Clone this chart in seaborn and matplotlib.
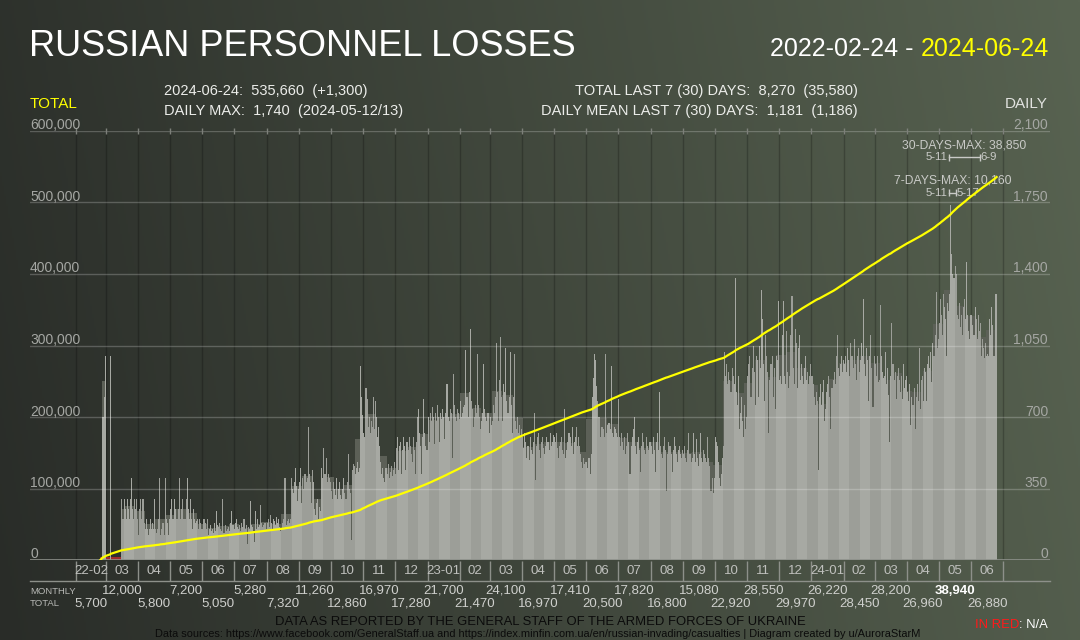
"""Russian personnel losses: daily losses and running total, 2022-02-24 .. 2024-06-24"""
import numpy as np
import pandas as pd
import seaborn as sns
from matplotlib import pyplot as plt
from matplotlib.transforms import blended_transform_factory, offset_copy

FIRST_DAY = "2022-02-24"
AXIS_START = "2022-02-01"

# daily increase of the reported total, one list per month
feb_22 = [1600, 1600, 700, 800, 1000]
mar_22 = [500, 500, 500, 500, 1000, 480, 480, 480, 480, 480, 480, 480, 480, 480, 480,
          300, 200, 300, 250, 200, 300, 250, 200, 300, 400, 250, 200, 300, 250, 300, 200]
apr_22 = [120, 250, 300, 200, 300, 180, 150, 200, 150, 120, 150, 200, 150, 180, 150,
          300, 150, 130, 150, 200, 400, 120, 150, 180, 120, 400, 200, 180, 120, 200]
may_22 = [250, 300, 200, 200, 300, 250, 200, 200, 250, 400, 200, 250, 300, 200, 200, 300,
          400, 250, 200, 300, 200, 150, 250, 200, 180, 190, 200, 150, 200, 180, 150]
jun_22 = [150, 200, 180, 150, 200, 120, 150, 170, 140, 150, 130, 180, 140, 240, 170,
          160, 180, 150, 140, 300, 130, 170, 140, 150, 160, 140, 180, 240, 170, 170]
jul_22 = [150, 180, 200, 160, 150, 170, 140, 180, 160, 200, 150, 170, 80, 160, 150, 290,
          170, 160, 140, 90, 240, 150, 200, 160, 170, 270, 180, 160, 170, 180, 150]
aug_22 = [180, 200, 160, 220, 180, 150, 200, 190, 170, 210, 180, 200, 160, 140, 150, 180,
          200, 400, 170, 190, 200, 180, 200, 400, 350, 330, 380, 450, 360, 290, 350]
sep_22 = [380, 450, 280, 400, 350, 420, 380, 400, 650, 420, 380, 280, 440, 380, 250,
          220, 280, 300, 200, 260, 240, 450, 400, 550, 420, 500, 380, 420, 400, 380]
oct_22 = [340, 300, 380, 350, 320, 400, 300, 350, 380, 320, 300, 350, 400, 330, 300, 380,
          520, 350, 330, 100, 440, 470, 460, 420, 450, 480, 430, 450, 950, 800, 710]
nov_22 = [620, 600, 840, 790, 650, 700, 620, 680, 650, 800, 640, 780, 700, 600, 650,
          560, 480, 420, 450, 400, 380, 450, 420, 470, 400, 430, 460, 410, 440, 480]
dec_22 = [420, 550, 600, 440, 560, 580, 420, 540, 600, 560, 440, 580, 540, 600, 560, 520,
          480, 600, 540, 420, 580, 700, 740, 620, 560, 420, 600, 790, 620, 560, 540]
jan_23 = [700, 580, 720, 680, 750, 700, 570, 720, 680, 760, 700, 580, 720, 690, 740, 700,
          590, 720, 860, 700, 680, 740, 720, 500, 910, 760, 700, 680, 740, 720, 690]
feb_23 = [780, 700, 720, 750, 760, 1030, 800, 700, 820, 1130, 780, 740, 650, 700,
          760, 720, 1010, 760, 700, 640, 680, 720, 960, 740, 700, 680, 720, 620]
mar_23 = [700, 660, 680, 760, 720, 800, 1060, 820, 680, 880, 1090, 800, 680, 860, 820, 1040,
          780, 720, 800, 1020, 760, 620, 800, 1010, 680, 640, 700, 620, 660, 600, 640]
apr_23 = [600, 550, 620, 580, 500, 560, 490, 600, 540, 520, 580, 720, 390, 560, 600,
          620, 540, 500, 580, 600, 550, 520, 560, 600, 580, 540, 620, 560, 580, 610]
may_23 = [600, 580, 620, 550, 500, 560, 580, 600, 540, 520, 740, 500, 540, 580, 620, 600,
          560, 650, 520, 580, 600, 650, 560, 600, 560, 520, 480, 450, 500, 470, 480]
jun_23 = [480, 450, 500, 420, 520, 800, 890, 1010, 980, 850, 780, 700, 700, 600, 650,
          650, 640, 600, 1010, 620, 660, 670, 640, 950, 620, 600, 650, 640, 620, 600]
jul_23 = [790, 600, 560, 620, 580, 540, 600, 520, 560, 620, 580, 420, 560, 600, 640, 700,
          560, 520, 580, 600, 540, 430, 560, 620, 580, 540, 520, 600, 560, 540, 580]
aug_23 = [560, 520, 600, 540, 430, 580, 620, 540, 820, 560, 520, 500, 560, 600, 540, 340,
          520, 580, 560, 520, 430, 540, 600, 560, 520, 480, 540, 560, 520, 500, 540]
sep_23 = [520, 560, 500, 480, 540, 620, 520, 480, 500, 620, 520, 480, 590, 500, 460,
          520, 620, 500, 480, 540, 520, 500, 480, 600, 500, 460, 340, 400, 330, 400]
oct_23 = [600, 580, 560, 480, 400, 360, 420, 500, 560, 1020, 900, 960, 860, 920, 880, 820,
          940, 900, 860, 1380, 820, 760, 900, 640, 720, 800, 680, 600, 760, 640, 700]
nov_23 = [900, 960, 1000, 800, 940, 1050, 920, 760, 1000, 980, 800, 1050, 940, 1320, 1180,
          960, 780, 1100, 1000, 920, 620, 880, 960, 1000, 800, 940, 740, 1000, 980, 1270]
dec_23 = [880, 900, 860, 1100, 1270, 900, 860, 1120, 920, 840, 900, 1100, 1290, 940, 860,
          1130, 1060, 840, 1040, 1100, 880, 960, 900, 860, 940, 1000, 880, 920, 860, 900, 960]
jan_24 = [900, 860, 800, 760, 820, 780, 440, 800, 860, 760, 820, 880, 680, 740, 820, 860,
          900, 800, 640, 840, 880, 920, 860, 1000, 1100, 940, 900, 960, 1000, 920, 980]
feb_24 = [960, 1000, 920, 1040, 980, 900, 1060, 1000, 940, 1080, 960, 880, 1000, 1040, 920,
          980, 1060, 1000, 1280, 960, 900, 1040, 980, 780, 1000, 1100, 940, 750, 1000]
mar_24 = [960, 900, 1000, 870, 880, 1250, 1000, 920, 890, 900, 1020, 860, 940, 810, 580, 900,
          1160, 960, 880, 920, 790, 900, 940, 880, 820, 900, 790, 960, 840, 880, 900]
apr_24 = [820, 780, 860, 660, 800, 760, 840, 640, 800, 860, 780, 1040, 740, 880, 900,
          780, 940, 920, 780, 960, 1000, 940, 1020, 870, 1060, 1000, 1100, 1310, 1040, 1080]
may_24 = [1160, 1280, 1200, 1100, 1300, 1240, 1180, 1000, 1260, 1220, 1300, 1740, 1500, 1400,
          1380, 1440, 1400, 1200, 1180, 1260, 1140, 1200, 1100, 1240, 1280, 1180, 1460, 1200,
          1120, 1080, 1200]
jun_24 = [1200, 1150, 1100, 1240, 1180, 1080, 1200, 1120, 1160, 1000, 1080, 1040,
          990, 1060, 1000, 1010, 1000, 1180, 1100, 1240, 1150, 1000, 1300, 1300]

months_daily = [feb_22, mar_22, apr_22, may_22, jun_22, jul_22, aug_22, sep_22, oct_22,
                nov_22, dec_22, jan_23, feb_23, mar_23, apr_23, may_23, jun_23, jul_23,
                aug_23, sep_23, oct_23, nov_23, dec_23, jan_24, feb_24, mar_24, apr_24,
                may_24, jun_24]

# days without a daily figure in the source (shown in red)
na_days = ["2022-02-24", "2022-02-25", "2022-03-01", "2022-03-02", "2022-03-03",
           "2022-03-04", "2022-03-06", "2022-03-07", "2022-03-08", "2022-03-09",
           "2022-03-10", "2022-03-11", "2022-03-12", "2022-03-13", "2022-03-14",
           "2022-03-15"]

month_labels = ["22-02", "03", "04", "05", "06", "07", "08", "09", "10", "11", "12",
                "23-01", "02", "03", "04", "05", "06", "07", "08", "09", "10", "11", "12",
                "24-01", "02", "03", "04", "05", "06"]
monthly_totals = [5700, 12000, 5800, 7200, 5050, 5280, 7320, 11260, 12860, 16970, 17280,
                  21700, 21470, 24100, 16970, 17410, 20500, 17820, 16800, 15080, 22920,
                  28550, 29970, 26220, 28450, 28200, 26960, 38940, 26880]

total_ticks = [0, 100000, 200000, 300000, 400000, 500000, 600000]
daily_ticks = [0, 350, 700, 1050, 1400, 1750, 2100]

# figures printed in the header / annotations
daily_max_label = "2024-05-12/13"
last_30_total = 35580
last_30_mean = 1186
max_30 = (38850, "2024-05-11", "2024-06-09")
max_7 = (10160, "2024-05-11", "2024-05-17")

# ---- frame ----------------------------------------------------------------
W, H = 1080, 640
plt.rcParams["font.family"] = ["Liberation Sans", "DejaVu Sans"]

axis0 = pd.Timestamp(AXIS_START)
days = pd.date_range(FIRST_DAY, periods=sum(len(m) for m in months_daily))
df = pd.DataFrame({"date": days,
                   "value": np.concatenate(months_daily).astype(float)})
df["d"] = (df["date"] - axis0).dt.days
df["x"] = df["d"] + 0.5
df["na"] = df["date"].isin(pd.to_datetime(na_days))
df["shown"] = df["value"].where(~df["na"])
df["total"] = df["value"].cumsum()
n = len(df)
df["block"] = (n - 1 - np.arange(n)) // 10
df["level"] = df.groupby("block")["shown"].transform("mean").where(~df["na"])
df["shade"] = np.where(df["block"] % 2 == 0, "a", "b")
df["kind"] = np.where(df["shown"] < df["level"], "dip", df["shade"])
df["na_mark"] = np.where(df["na"], 14.0, np.nan)

line = pd.DataFrame({"d": np.r_[df["d"].iloc[0], df["d"] + 1],
                     "total": np.r_[0, df["total"]]})

month_starts = pd.date_range(AXIS_START, "2024-07-01", freq="MS")
month_d = np.array((month_starts - axis0).days, dtype=float)
month_mid = (month_d[:-1] + month_d[1:]) / 2


def day(s):
    return (pd.Timestamp(s) - axis0).days


def ay(p):
    # figure pixel row -> main axes fraction
    return (560 - p) / 429


def ftext(x, y, s, **kw):
    return fig.text(x / W, 1 - y / H, s, **kw)


fig = plt.figure(figsize=(W / 100, H / 100), dpi=100)

bg = fig.add_axes([0, 0, 1, 1], zorder=-10)
gx, gy = np.meshgrid(np.linspace(0, 1, 540), np.linspace(0, 1, 320))
t = 0.9 * gx + 0.1 * (1 - gy)
c0 = np.array([41, 44, 40]) / 255
c1 = np.array([88, 99, 81]) / 255
bg.imshow(c0 + t[..., None] * (c1 - c0), aspect="auto", extent=(0, 1, 0, 1))
bg.set_axis_off()

ax = fig.add_axes([30 / W, (H - 560) / H, 1020 / W, 429 / H])
ax.set_facecolor("none")

pal = {"a": "#a7aaa2", "b": "#9c9f97", "dip": "#5c6156"}
bar_kw = dict(native_scale=True, dodge=False, width=1, errorbar=None,
              legend=False, linewidth=0, ax=ax)
sns.barplot(data=df, x="x", y="level", hue="kind", palette=pal, zorder=2, **bar_kw)
sns.barplot(data=df, x="x", y="shown", hue="shade",
            palette={"a": pal["a"], "b": pal["b"]}, zorder=3, **bar_kw)
sns.barplot(data=df, x="x", y="na_mark", color="#b3191b", native_scale=True, width=1,
            errorbar=None, linewidth=0, zorder=3, ax=ax)
ax.vlines(month_d, 0, 2100, colors="black", alpha=0.22, linewidth=1, zorder=0.5)
ax.set_xlim((30 - 76.2) / 1.0519, (1050 - 76.2) / 1.0519)
ax.set_ylim(0, 2100)

ax2 = ax.twinx()
ax2.set_ylim(0, 600000)
for v in total_ticks[1:]:
    ax2.axhline(v, color="white", alpha=0.22, linewidth=1, zorder=1)
ax2.axhline(0, color="#8d908a", linewidth=1.2, zorder=4)
sns.lineplot(data=line, x="d", y="total", color="#ffff00", linewidth=1.6,
             ax=ax2, zorder=5)
ax.set_xlim((30 - 76.2) / 1.0519, (1050 - 76.2) / 1.0519)

for a in (ax, ax2):
    a.set_xlabel("")
    a.set_ylabel("")
    a.set_yticks([])
    for s in a.spines.values():
        s.set_visible(False)
ax.set_xticks([])

grey = "#a5a7a3"
left_tr = offset_copy(blended_transform_factory(ax2.transAxes, ax2.transData),
                      fig=fig, y=1.5, units="dots")
right_tr = offset_copy(blended_transform_factory(ax2.transAxes, ax.transData),
                       fig=fig, x=-2, y=1.5, units="dots")
for v in total_ticks:
    ax2.text(0, v, f"{v:,}", transform=left_tr, ha="left", va="baseline",
             fontsize=10, color=grey)
for v in daily_ticks:
    ax2.text(1, v, f"{v:,}", transform=right_tr, ha="right", va="baseline",
             fontsize=10, color=grey)

# month strip under the plot
xt = ax2.get_xaxis_transform()
ax2.plot([0, 1], [ay(581), ay(581)], transform=ax2.transAxes, color="#8d908a",
         linewidth=1, clip_on=False)
ax2.vlines(month_d, ay(581), ay(561), transform=xt, colors="#8d908a",
           linewidth=1, clip_on=False)
ax2.vlines(month_d, ay(134), ay(128), transform=xt, colors="#7d807a",
           linewidth=1, clip_on=False)
for c, lab in zip(month_mid, month_labels):
    ax2.text(c, ay(571.5), lab, transform=xt, ha="center", va="center",
             fontsize=9.5, color="#bfc0bd")
top_month = int(np.argmax(monthly_totals))
for i, (c, v) in enumerate(zip(month_mid, monthly_totals)):
    y = ay(590.5) if i % 2 else ay(603)
    best = i == top_month
    ax2.text(c, y, f"{v:,}", transform=xt, ha="center", va="center", fontsize=9.5,
             color="white" if best else "#cfd0cd",
             fontweight="bold" if best else "normal")
ftext(30, 591, "MONTHLY", fontsize=6.8, color="#b8b9b6", va="center")
ftext(30, 603, "TOTAL", fontsize=6.8, color="#b8b9b6", va="center")

# max-window annotations
ann = "#c9cac7"
for (val, d0, d1), ytxt, ybar, name in [(max_30, 145.5, 157.5, "30-DAYS-MAX"),
                                         (max_7, 181, 193, "7-DAYS-MAX")]:
    a, b = day(d0), day(d1)
    ax2.plot([a, b], [ay(ybar), ay(ybar)], transform=xt, color=ann, linewidth=1)
    ax2.vlines([a, b], ay(ybar + 3.5), ay(ybar - 3.5), transform=xt, colors=ann,
               linewidth=1)
    ax2.text((a + b) / 2, ay(ytxt), f"{name}: {val:,}", transform=xt, ha="center",
             va="center", fontsize=8.7, color=ann, zorder=3)
    s0 = pd.Timestamp(d0)
    s1 = pd.Timestamp(d1)
    ax2.text(a - 1.5, ay(ybar), f"{s0.month}-{s0.day}", transform=xt, ha="right",
             va="center", fontsize=8.2, color=ann, zorder=3)
    ax2.text(b + 1.0, ay(ybar), f"{s1.month}-{s1.day}", transform=xt, ha="left",
             va="center", fontsize=8.2, color=ann, zorder=3)

# header
last = df.iloc[-1]
shown = df["shown"]
last7 = df["value"].iloc[-7:].sum()
ftext(29, 56, "RUSSIAN PERSONNEL LOSSES", fontsize=26, color="white", va="baseline")
fig.canvas.draw()
r = fig.canvas.get_renderer()
end_txt = ftext(1049, 56, last["date"].strftime("%Y-%m-%d"), fontsize=18,
                color="#ffff00", ha="right", va="baseline")
x_end = end_txt.get_window_extent(r).x0
fig.text(x_end / W, 1 - 56 / H, f"{FIRST_DAY} - ", fontsize=18, color="white",
         ha="right", va="baseline")

ftext(30, 108, "TOTAL", fontsize=11, color="#ffff00", va="baseline")
ftext(1048, 108, "DAILY", fontsize=11, color="#e2e3e0", ha="right", va="baseline")
stat = dict(fontsize=10.5, color="#ecedea", va="baseline")
ftext(164, 95, f"{last['date']:%Y-%m-%d}:  {int(last['total']):,}  (+{int(last['value']):,})",
      **stat)
ftext(164, 115, f"DAILY MAX:  {int(shown.max()):,}  ({daily_max_label})", **stat)
ftext(858, 95, f"TOTAL LAST 7 (30) DAYS:  {int(last7):,}  ({last_30_total:,})",
      ha="right", **stat)
ftext(858, 115, f"DAILY MEAN LAST 7 (30) DAYS:  {int(last7 / 7):,}  ({last_30_mean:,})",
      ha="right", **stat)

# footer
ftext(540, 622, "DATA AS REPORTED BY THE GENERAL STAFF OF THE ARMED FORCES OF UKRAINE",
      fontsize=9.4, color="#0b0b0b", ha="center", va="center")
ftext(538, 634, "Data sources: https://www.facebook.com/GeneralStaff.ua and "
      "https://index.minfin.com.ua/en/russian-invading/casualties | "
      "Diagram created by u/AuroraStarM",
      fontsize=7.9, color="#0b0b0b", ha="center", va="center")
na_txt = ftext(1048, 625.5, ": N/A", fontsize=9.4, color="white", ha="right", va="center")
x_na = na_txt.get_window_extent(r).x0
fig.text(x_na / W, 1 - 625.5 / H, "IN RED", fontsize=9.4, color="#ff1a1a",
         ha="right", va="center")

fig.savefig("out.png", dpi=100)
